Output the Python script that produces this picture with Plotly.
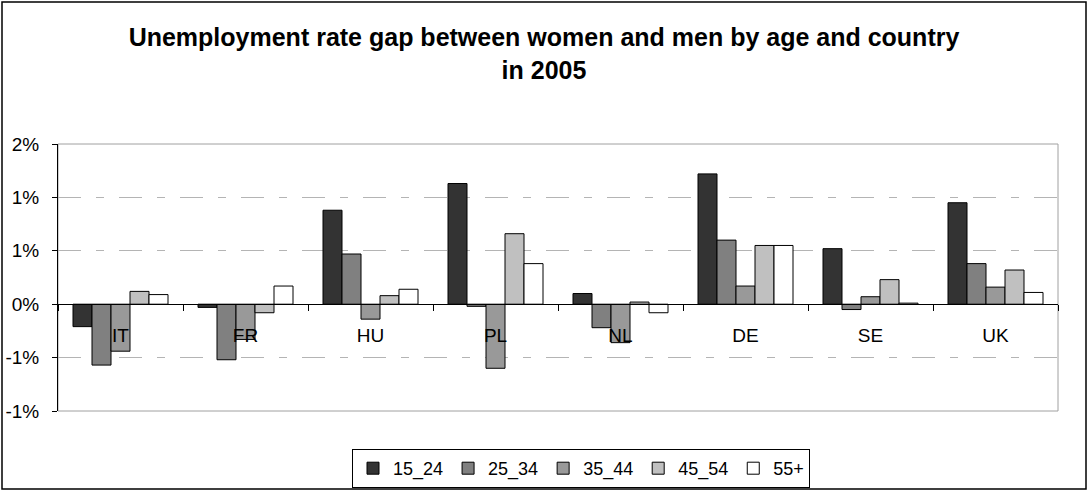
import plotly.graph_objects as go

# Unemployment rate gap (women minus men), percentage points, 2005
countries = ["IT", "FR", "HU", "PL", "NL", "DE", "SE", "UK"]
age_groups = ["15_24", "25_34", "35_44", "45_54", "55+"]

gap_15_24 = [-0.21, -0.03, 0.88, 1.13, 0.10, 1.22, 0.52, 0.95]
gap_25_34 = [-0.57, -0.52, 0.47, -0.02, -0.22, 0.60, -0.05, 0.38]
gap_35_44 = [-0.44, -0.33, -0.14, -0.60, -0.36, 0.17, 0.07, 0.16]
gap_45_54 = [0.12, -0.08, 0.08, 0.66, 0.02, 0.55, 0.23, 0.32]
gap_55_plus = [0.09, 0.17, 0.14, 0.38, -0.08, 0.55, 0.01, 0.11]

series = [gap_15_24, gap_25_34, gap_35_44, gap_45_54, gap_55_plus]
fills = ["#333333", "#808080", "#999999", "#C0C0C0", "#FFFFFF"]

y_tickvals = [-1.0, -0.5, 0.0, 0.5, 1.0, 1.5]
y_ticktext = ["-1%", "-1%", "0%", "1%", "1%", "2%"]
y_range = [-1.0, 1.5]

FONT = "Liberation Sans, Arial, sans-serif"
W, H = 1088, 491
M_L, M_R, M_T, M_B = 58, 30, 144, 80
plot_w, plot_h = W - M_L - M_R, H - M_T - M_B


def px_to_paper_x(px):
    return (px - M_L) / plot_w


def px_to_paper_y(py):
    return (H - M_B - py) / plot_h


fig = go.Figure()
for name, vals, color in zip(age_groups, series, fills):
    fig.add_trace(go.Bar(
        name=name, x=countries, y=vals,
        marker=dict(color=color, line=dict(color="#000000", width=1)),
    ))

# x axis sits on the zero line: its paper position follows the y range
zero_pos = (0 - y_range[0]) / (y_range[1] - y_range[0])

fig.update_layout(
    width=W, height=H,
    margin=dict(l=M_L, r=M_R, t=M_T, b=M_B, autoexpand=False),
    paper_bgcolor="white", plot_bgcolor="white",
    barmode="group", bargap=0.24, bargroupgap=0,
    font=dict(family=FONT, color="#000000"),
    title=dict(
        text="Unemployment rate gap between women and men by age and country<br>in 2005",
        x=0.5, xanchor="center", y=1 - 46 / H, yanchor="middle",
        font=dict(family=FONT, size=25, color="#000000", weight="bold"),
    ),
    showlegend=True,
    legend=dict(
        orientation="h",
        xref="container", x=352 / W, xanchor="left",
        yref="container", y=1 - 449 / H, yanchor="top",
        bordercolor="#000000", borderwidth=1, bgcolor="white",
        font=dict(family=FONT, size=18),
        traceorder="normal",
    ),
    xaxis=dict(
        anchor="free", position=zero_pos,
        showline=True, linecolor="#000000", linewidth=1,
        ticks="outside", tickson="boundaries", ticklen=6, tickcolor="#000000",
        ticklabelstandoff=14,
        tickfont=dict(family=FONT, size=19),
        showgrid=False, zeroline=False,
    ),
    yaxis=dict(
        range=y_range, tickvals=y_tickvals, ticktext=y_ticktext,
        showline=True, linecolor="#000000", linewidth=1,
        ticks="outside", ticklen=5, tickcolor="#000000",
        ticklabelstandoff=9,
        tickfont=dict(family=FONT, size=19),
        showgrid=True, gridcolor="#B4B4B4", gridwidth=1,
        griddash="23px,15px,8px,15px",
        zeroline=False,
    ),
    shapes=[
        # plot-area frame (top, right, bottom)
        dict(type="rect", xref="paper", yref="paper", x0=0, x1=1, y0=0, y1=1,
             line=dict(color="#A0A0A0", width=1), layer="below"),
        # outer chart border
        dict(type="rect", xref="paper", yref="paper",
             x0=px_to_paper_x(2), x1=px_to_paper_x(1086),
             y0=px_to_paper_y(489), y1=px_to_paper_y(2),
             line=dict(color="#000000", width=1.5), layer="below"),
    ],
)

fig.write_html("out.html")
